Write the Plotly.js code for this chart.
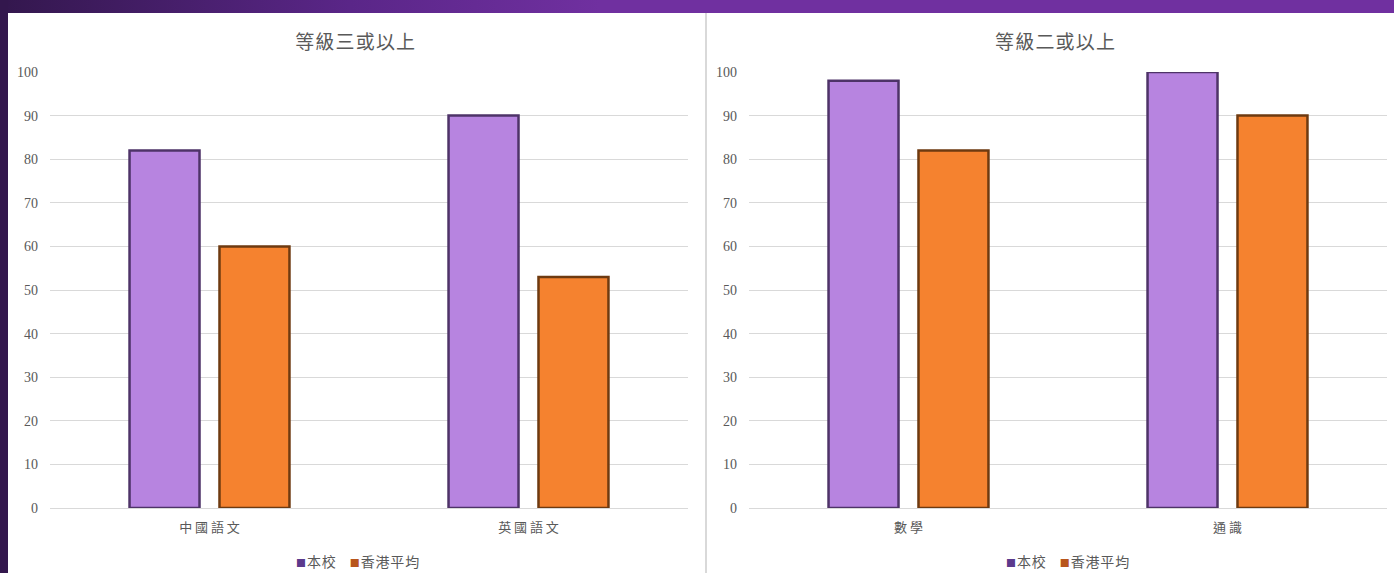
<!DOCTYPE html>
<html>
<head>
<meta charset="utf-8">
<script src="https://cdn.plot.ly/plotly-3.0.1.min.js"></script>
<style>
  html, body { margin:0; padding:0; width:1394px; height:573px; overflow:hidden; background:#fff; }
  #topbar { position:absolute; left:0; top:0; width:1394px; height:13px;
    background: linear-gradient(to right, #33174d 0px, #5a2688 350px, #7030a0 600px, #7030a0 1394px); }
  #leftbar { position:absolute; left:0; top:0; width:8px; height:573px; background:#33174d; }
  #divider { position:absolute; left:705px; top:13px; width:2px; height:560px; background:#d9d9d9; }
  #c1 { position:absolute; left:8px; top:13px; width:697px; height:560px; }
  #c2 { position:absolute; left:707px; top:13px; width:687px; height:560px; }
</style>
</head>
<body>
<div id="topbar"></div>
<div id="leftbar"></div>
<div id="divider"></div>
<div id="c1"></div>
<div id="c2"></div>
<script>
// Data
const title1 = "等級三或以上";
const title2 = "等級二或以上";
const categories1 = ["中 國 語 文", "英 國 語 文"];
const categories2 = ["數 學", "通 識"];
const seriesNames = ["本校", "香港平均"];
const school1 = [82, 90];
const hk1 = [60, 53];
const school2 = [98, 100];
const hk2 = [82, 90];
const yTicks = [0, 10, 20, 30, 40, 50, 60, 70, 80, 90, 100];

const purple = "#b784e0", purpleEdge = "#4e3368";
const orange = "#f5822f", orangeEdge = "#6e3a10";
const textGray = "#595959";
const cjk = "Noto Sans CJK TC, sans-serif";

function spaced(s) { return s.split("").join("\u200A"); }

function makeChart(id, title, cats, a, b, o) {
  const traces = [
    { type:"bar", name:seriesNames[0], x:cats, y:a,
      marker:{ color:purple, line:{ color:purpleEdge, width:2.5 } }, hoverinfo:"none" },
    { type:"bar", name:seriesNames[1], x:cats, y:b,
      marker:{ color:orange, line:{ color:orangeEdge, width:2.5 } }, hoverinfo:"none" }
  ];
  const legendText =
    '<span style="font-size:10px;color:#5b3a8c">■</span>\u200A' + spaced(seriesNames[0]) +
    '\u3000<span style="font-size:10px;color:#b8561c">■</span>\u200A' + spaced(seriesNames[1]);
  const layout = {
    width: o.w, height: 560,
    margin: { l:42, r:o.r, t:59, b:65, pad:0 },
    paper_bgcolor:"#ffffff", plot_bgcolor:"#ffffff",
    title: { text:spaced(title), xref:"container", x:o.tx, xanchor:"center",
      yref:"container", y:1 - 29/560, yanchor:"middle",
      font:{ family:cjk, size:19, color:textGray } },
    barmode:"group", bargap:0.436, bargroupgap:0.222,
    xaxis: { showgrid:false, zeroline:false, showline:false, ticks:"", automargin:false,
      tickfont:{ family:cjk, size:13, color:textGray },
      ticklabelstandoff: 10 },
    yaxis: { range:[0,100], tickvals:yTicks, showgrid:true, gridcolor:"#d9d9d9", gridwidth:1,
      zeroline:true, zerolinecolor:"#d9d9d9", zerolinewidth:1, showline:false, ticks:"",
      automargin:false, ticklabelstandoff: 11,
      tickfont:{ family:"Liberation Serif, serif", size:14, color:textGray } },
    showlegend:false,
    annotations: [{
      text: legendText, showarrow:false,
      xref:"paper", x:o.lx, xanchor:"center",
      yref:"paper", y:-53/436, yanchor:"middle",
      font:{ family:cjk, size:14, color:textGray }
    }]
  };
  Plotly.newPlot(id, traces, layout, { staticPlot:true, displayModeBar:false });
}

// legend x in paper coordinates: (center - plotLeft)/plotWidth
makeChart("c1", title1, categories1, school1, hk1, { w:697, r:17, tx:0.498, lx:(357-50)/638 });
makeChart("c2", title2, categories2, school2, hk2, { w:687, r:7, tx:0.5066, lx:(1067-749)/638 });
</script>
</body>
</html>
